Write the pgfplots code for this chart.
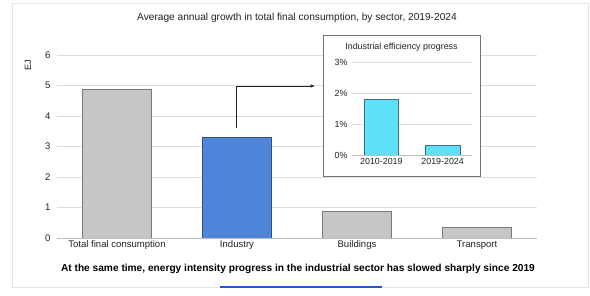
\documentclass[border=0pt]{standalone}
\usepackage{pgfplots}
\pgfplotsset{compat=1.18}
\usepackage{fontspec}
\setmainfont{Liberation Sans}
\usetikzlibrary{arrows.meta}
\definecolor{gbar}{HTML}{C6C6C6}
\definecolor{gedge}{HTML}{7A7A7A}
\definecolor{bbar}{HTML}{4E85D8}
\definecolor{bedge}{HTML}{2E4F8A}
\definecolor{cbar}{HTML}{5DE1F9}
\definecolor{cedge}{HTML}{3A6E84}
\definecolor{gridc}{HTML}{DEDEDE}
\definecolor{axc}{HTML}{BDBDBD}
\definecolor{framec}{HTML}{E4E4E4}
\definecolor{txt}{HTML}{222222}
\definecolor{bline}{HTML}{2457D6}
\begin{document}
\begin{tikzpicture}[x=1bp,y=1bp]
\useasboundingbox (0,0) rectangle (590,295);
\fill[white] (0,0) rectangle (590,295);
\draw[framec, line width=0.8bp] (12.5,7.5) rectangle (588,292);
\node[txt, font=\fontsize{10.2}{12}\selectfont] at (297,277) {Average annual growth in total final consumption, by sector, 2019-2024};
\node[txt, rotate=90, font=\fontsize{9.2}{10}\selectfont] at (28,230) {EJ};
\begin{axis}[
  at={(57bp,57bp)}, anchor=south west, scale only axis,
  width=480bp, height=183bp,
  xmin=-0.5, xmax=3.5, ymin=0, ymax=6,
  axis line style={draw=none}, tick style={draw=none},
  ymajorgrids, grid style={gridc, line width=0.8bp},
  xtick={0,1,2,3},
  xticklabels={Total final consumption, Industry, Buildings, Transport},
  ytick={0,1,2,3,4,5,6},
  /pgf/number format/assume math mode=true,
  every tick label/.append style={txt, font=\fontsize{9.6}{11}\selectfont},
  xticklabel style={text height=0.72em, text depth=0.22em, yshift=1.5bp},
  yticklabel style={xshift=-3bp},
  clip=false,
]
\addplot[ybar, bar width=0.57, bar shift=0pt, fill=gbar, draw=gedge, line width=0.7bp] coordinates {(0,4.87)};
\addplot[ybar, bar width=0.57, bar shift=0pt, fill=bbar, draw=bedge, line width=0.7bp] coordinates {(1,3.31)};
\addplot[ybar, bar width=0.57, bar shift=0pt, fill=gbar, draw=gedge, line width=0.7bp] coordinates {(2,0.88)};
\addplot[ybar, bar width=0.57, bar shift=0pt, fill=gbar, draw=gedge, line width=0.7bp] coordinates {(3,0.36)};
\draw[axc, line width=0.9bp] (axis cs:-0.5,0) -- (axis cs:3.5,0);
\end{axis}
\draw[black!85, line width=0.6bp, -{Latex[length=4.5bp,width=3.5bp]}] (236,167) -- (236,209) -- (315,209);
\draw[gray!90!black, line width=0.8bp, fill=white] (323,119) rectangle (480,260);
\node[txt, font=\fontsize{8.9}{10}\selectfont] at (401.5,248) {Industrial efficiency progress};
\begin{axis}[
  at={(352bp,140bp)}, anchor=south west, scale only axis,
  width=120bp, height=93bp,
  xmin=-0.48, xmax=1.48, ymin=0, ymax=3,
  axis line style={draw=none}, tick style={draw=none},
  ymajorgrids, grid style={gridc, line width=0.8bp},
  xtick={0,1},
  xticklabels={2010-2019, 2019-2024},
  ytick={0,1,2,3},
  yticklabel={\pgfmathprintnumber{\tick}\%},
  /pgf/number format/assume math mode=true,
  every tick label/.append style={txt, font=\fontsize{8.9}{10}\selectfont},
  yticklabel style={xshift=-1bp},
  clip=false,
]
\addplot[ybar, bar width=0.57, bar shift=0pt, fill=cbar, draw=cedge, line width=0.7bp] coordinates {(0,1.8)};
\addplot[ybar, bar width=0.57, bar shift=0pt, fill=cbar, draw=cedge, line width=0.7bp] coordinates {(1,0.3)};
\draw[axc, line width=0.9bp] (axis cs:-0.48,0) -- (axis cs:1.48,0);
\end{axis}
\node[black, font=\fontsize{10.2}{12}\bfseries\selectfont] at (298,26) {At the same time, energy intensity progress in the industrial sector has slowed sharply since 2019};
\draw[bline, line width=2bp] (220,7.8) -- (382,7.8);
\end{tikzpicture}
\end{document}
